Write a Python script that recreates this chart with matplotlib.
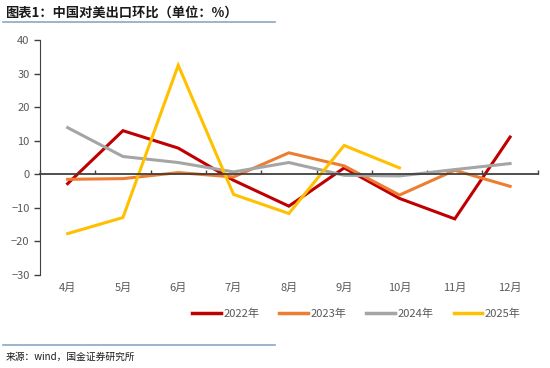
import matplotlib.pyplot as plt
from matplotlib.lines import Line2D

plt.rcParams['font.family'] = ['Noto Sans CJK SC', 'DejaVu Sans']

months = ["4月", "5月", "6月", "7月", "8月", "9月", "10月", "11月", "12月"]
y2022 = [-2.8, 13.0, 7.8, -1.8, -9.5, 1.9, -7.2, -13.3, 11.1]
y2023 = [-1.5, -1.3, 0.5, -0.8, 6.4, 2.5, -6.2, 1.2, -3.6]
y2024 = [13.9, 5.3, 3.5, 0.7, 3.5, -0.3, -0.5, 1.4, 3.2]
y2025 = [-17.7, -12.9, 32.5, -6.0, -11.7, 8.6, 1.9]

series = [("2022年", y2022, "#C00000"),
          ("2023年", y2023, "#ED7D31"),
          ("2024年", y2024, "#A5A5A5"),
          ("2025年", y2025, "#FFC000")]

fig = plt.figure(figsize=(5.5, 3.68), dpi=100)
ax = fig.add_axes([0.0727, 0.253, 0.905, 0.638])

x = list(range(len(months)))
for name, vals, color in series:
    ax.plot(x[:len(vals)], vals, color=color, lw=2.2, label=name,
            solid_joinstyle="miter")

ax.set_xlim(-0.5, len(months) - 0.5)
ax.set_ylim(-30, 40)
ax.set_yticks(range(-30, 41, 10))
ax.tick_params(axis="y", direction="out", length=4, color="#404040",
               labelsize=8, labelcolor="#595959", width=1)

# x axis line sits at zero, with ticks between categories
for s in ["top", "right"]:
    ax.spines[s].set_visible(False)
ax.spines["left"].set_color("#404040")
ax.spines["bottom"].set_position(("data", 0))
ax.spines["bottom"].set_color("#404040")
ax.spines["bottom"].set_linewidth(1.3)
ax.set_xticks([i - 0.5 for i in range(len(months) + 1)])
ax.set_xticklabels([])
ax.tick_params(axis="x", direction="in", length=3, color="#404040", width=1)

sec = ax.secondary_xaxis("bottom")
sec.set_xticks(x)
sec.set_xticklabels(months)
sec.spines["bottom"].set_visible(False)
sec.tick_params(length=0, labelsize=8, labelcolor="#595959", pad=6)

handles = [Line2D([], [], color=c, lw=2.5) for _, _, c in series]
fig.legend(handles, [n for n, _, _ in series], loc="center",
           bbox_to_anchor=(0.648, 0.147), ncol=4, frameon=False,
           fontsize=8, handlelength=2.6, handletextpad=0.2,
           columnspacing=1.8, labelcolor="#595959")

fig.text(0.01, 0.965, "图表1：中国对美出口环比（单位：%）", fontsize=9.5,
         fontweight="bold", style="italic", va="center", color="#1a1a1a")
fig.add_artist(Line2D([0.006, 0.5], [0.94, 0.94], color="#8AA8C4", lw=1.2))
fig.add_artist(Line2D([0.006, 0.5], [0.062, 0.062], color="#8AA8C4", lw=1.2))
fig.text(0.01, 0.03, "来源：wind，国金证券研究所", fontsize=7, va="center",
         color="#1a1a1a")

fig.savefig("out.png", dpi=100)
